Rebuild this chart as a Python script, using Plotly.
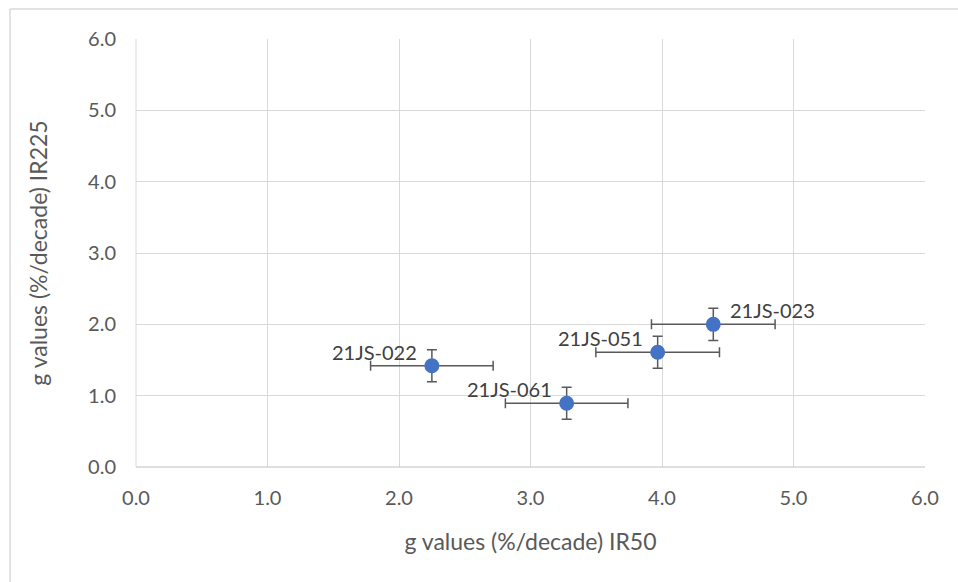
import plotly.graph_objects as go

samples = ["21JS-022", "21JS-061", "21JS-051", "21JS-023"]
g_ir50 = [2.25, 3.275, 3.967, 4.39]
g_ir225 = [1.42, 0.893, 1.608, 2.00]
err_ir50 = [0.466, 0.466, 0.47, 0.47]
err_ir225 = [0.225, 0.224, 0.225, 0.225]
label_side = ["left", "left", "left", "right"]

x_ticks = [0, 1, 2, 3, 4, 5, 6]
y_ticks = [0, 1, 2, 3, 4, 5, 6]

FONT = "Lato"
TXT = "#595959"

fig = go.Figure()
fig.add_trace(go.Scatter(
    x=g_ir50, y=g_ir225, mode="markers",
    marker=dict(color="#4472C4", size=15),
    error_x=dict(type="data", array=err_ir50, color="#595959", thickness=1.5, width=5),
    error_y=dict(type="data", array=err_ir225, color="#595959", thickness=1.5, width=5),
    showlegend=False, cliponaxis=False,
))

for name, xv, yv, side in zip(samples, g_ir50, g_ir225, label_side):
    fig.add_annotation(
        x=xv, y=yv, text=name, showarrow=False,
        xanchor="right" if side == "left" else "left", yanchor="middle",
        xshift=-13 if side == "left" else 15, yshift=14,
        font=dict(family=FONT, size=20, color="#404040"),
    )

axis_common = dict(
    range=[0, 6], showgrid=True, gridcolor="#d9d9d9", gridwidth=1,
    zeroline=False, showline=False, ticks="",
    tickfont=dict(family=FONT, size=20, color=TXT),
    tickformat=".1f",
)
fig.update_xaxes(**axis_common, tickvals=x_ticks, ticklabelstandoff=17,
                 title=dict(text="g values (%/decade) IR50",
                            font=dict(family=FONT, size=23, color=TXT), standoff=25))
fig.update_yaxes(**axis_common, tickvals=y_ticks, ticklabelstandoff=19,
                 title=dict(text="g values (%/decade) IR225",
                            font=dict(family=FONT, size=23, color=TXT), standoff=34))

# axis lines (left and bottom)
fig.add_shape(type="line", xref="paper", yref="paper", x0=0, x1=1, y0=0, y1=0,
              line=dict(color="#bfbfbf", width=1))
fig.add_shape(type="line", xref="paper", yref="paper", x0=0, x1=0, y0=0, y1=1,
              line=dict(color="#d9d9d9", width=1))

# outer chart border (top and left visible)
pw, ph = 789.0, 428.0
lx = (10 - 136) / pw
ty = (467 - 9) / ph
fig.add_shape(type="line", xref="paper", yref="paper", x0=lx, x1=lx, y0=ty, y1=(467 - 600) / ph,
              line=dict(color="#d9d9d9", width=1.5))
fig.add_shape(type="line", xref="paper", yref="paper", x0=lx, x1=(1000 - 136) / pw, y0=ty, y1=ty,
              line=dict(color="#d9d9d9", width=1.5))

fig.update_layout(
    width=958, height=582,
    margin=dict(l=136, r=33, t=39, b=115),
    paper_bgcolor="white", plot_bgcolor="white",
    font=dict(family=FONT),
)
fig.write_html("out.html")
